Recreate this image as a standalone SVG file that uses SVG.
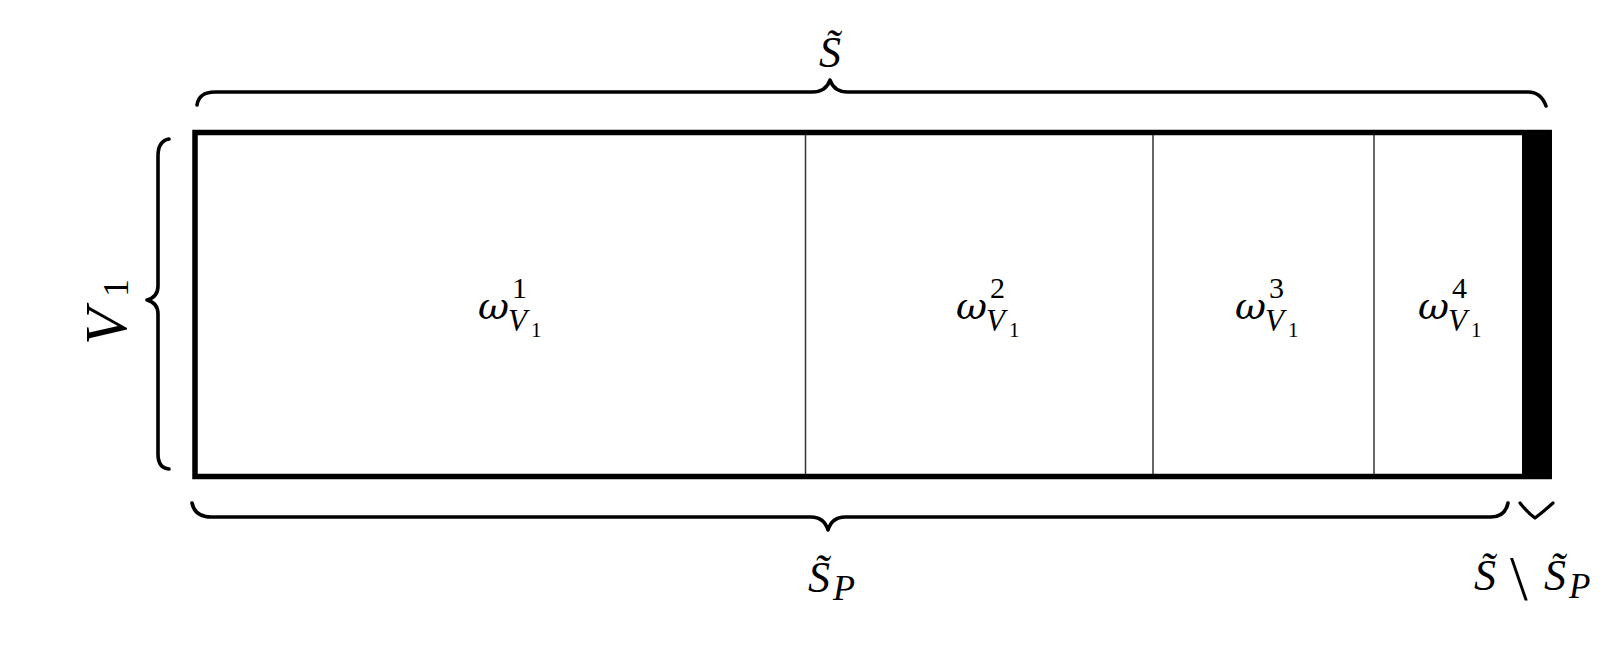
<svg xmlns="http://www.w3.org/2000/svg" width="1603" height="646" viewBox="0 0 1603 646">
<style>
.brace{fill:none;stroke:#000;stroke-width:3.6;stroke-linecap:round;stroke-linejoin:round}
.thin{stroke:#333;stroke-width:1.5}
.m{font-family:"Liberation Serif","DejaVu Serif",serif;font-style:italic;fill:#000}
.r{font-family:"Liberation Serif","DejaVu Serif",serif;font-style:normal;fill:#000}
.w{font-family:"DejaVu Serif","Liberation Serif",serif;font-style:italic;font-size:38px;fill:#000}
.sup{font-size:30px}
.sub{font-size:31px}
.ss{font-size:21px}
</style>
<rect width="1603" height="646" fill="#fff"/>
<g id="frame">
<rect x="195" y="132.5" width="1354" height="344" fill="none" stroke="#000" stroke-width="5.5"/>
<rect x="1522" y="130" width="30" height="349" fill="#000"/>
<line class="thin" x1="805.5" y1="135" x2="805.5" y2="474"/>
<line class="thin" x1="1153" y1="135" x2="1153" y2="474"/>
<line class="thin" x1="1374" y1="135" x2="1374" y2="474"/>
</g>
<g id="connectors">
<path class="brace" d="M197,105 Q199,92 215,92 L812,92 Q826,92 830,80 Q834,92 848,92 L1528,92 Q1541,92 1546,106"/>
<path class="brace" d="M169,139 Q158,141 158,156 L158,286 Q158,297 147,300 Q158,303 158,314 L158,454 Q158,468 169,469"/>
<path class="brace" d="M192,503 Q195,517 211,517 L811,517 Q824,517 828,530 Q832,517 845,517 L1491,517 Q1505,517 1508,503"/>
<path class="brace" d="M1520,503 Q1527,512 1535,518 Q1543,512 1553,503" style="stroke-width:3.2"/>
</g>
<g id="label-S">
<text class="m" x="830" y="67" font-size="44" text-anchor="middle">S̃</text>
</g>
<g id="label-V1">
<text class="m" transform="translate(126,345) rotate(-90)" font-size="60">V</text>
<text class="r" transform="translate(128,297) rotate(-90)" font-size="36">1</text>
</g>
<g id="w1">
<text class="w" x="478" y="319">ω</text>
<text class="r sup" x="512" y="298">1</text>
<text class="m sub" x="508" y="331">V</text>
<text class="r ss" x="531" y="337">1</text>
</g>
<g id="w2">
<text class="w" x="956" y="319">ω</text>
<text class="r sup" x="990" y="298">2</text>
<text class="m sub" x="986" y="331">V</text>
<text class="r ss" x="1009" y="337">1</text>
</g>
<g id="w3">
<text class="w" x="1235" y="319">ω</text>
<text class="r sup" x="1269" y="298">3</text>
<text class="m sub" x="1265" y="331">V</text>
<text class="r ss" x="1288" y="337">1</text>
</g>
<g id="w4">
<text class="w" x="1418" y="319">ω</text>
<text class="r sup" x="1452" y="298">4</text>
<text class="m sub" x="1448" y="331">V</text>
<text class="r ss" x="1471" y="337">1</text>
</g>
<g id="label-SP">
<text class="m" x="808" y="592" font-size="44">S̃</text>
<text class="m" x="833" y="600" font-size="36">P</text>
</g>
<g id="label-diff">
<text class="m" x="1474" y="590" font-size="44">S̃</text>
<text class="r" x="1510" y="600" font-size="64">\</text>
<text class="m" x="1544" y="590" font-size="44">S̃</text>
<text class="m" x="1569" y="598" font-size="35">P</text>
</g>
</svg>
